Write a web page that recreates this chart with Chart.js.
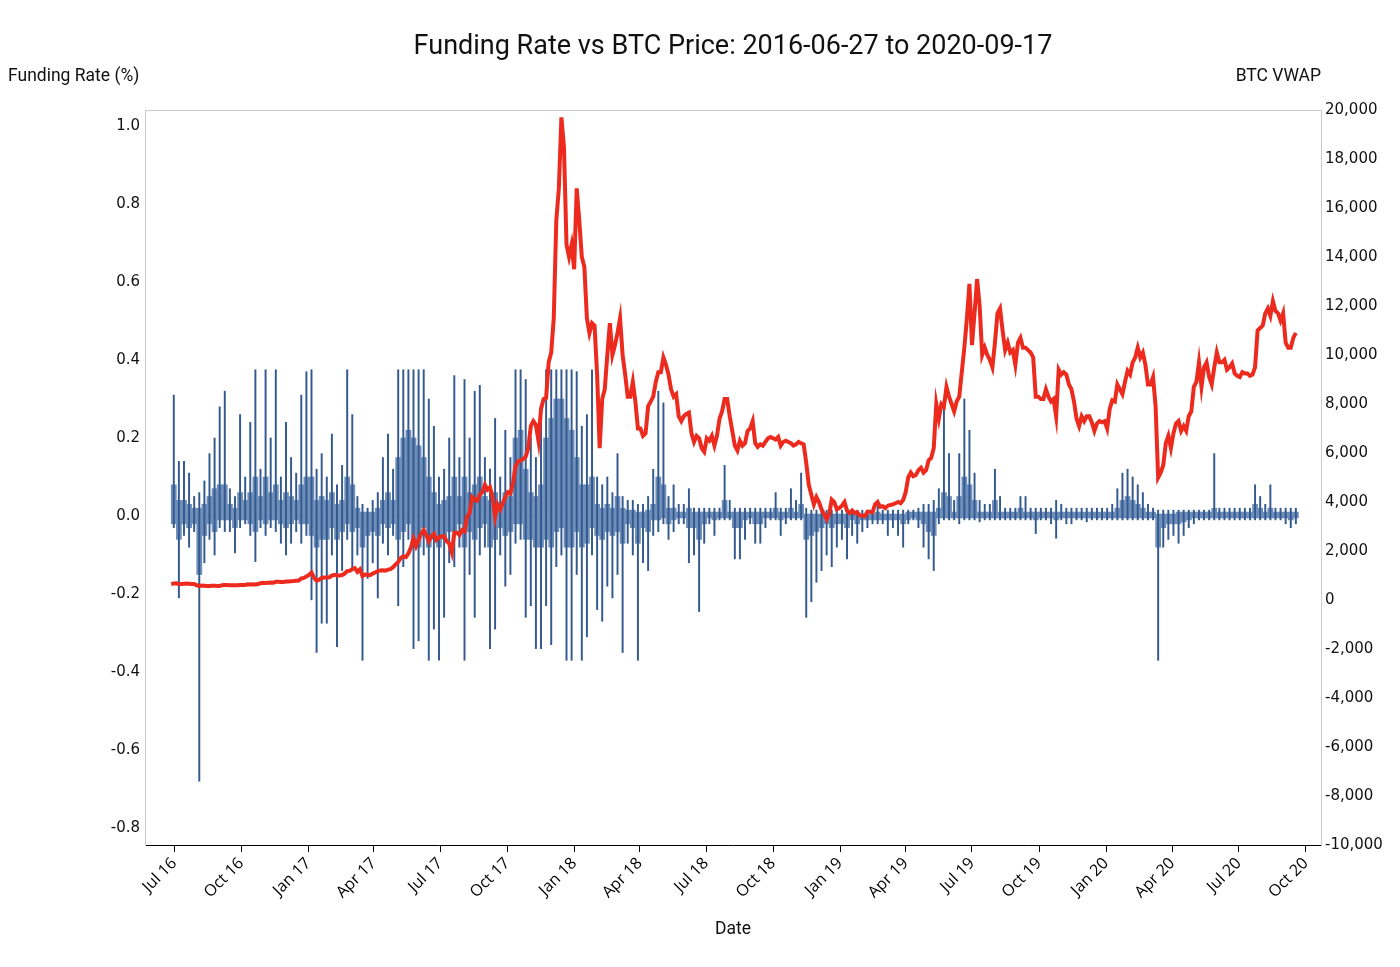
<!DOCTYPE html>
<html>
<head>
<meta charset="utf-8">
<script src="https://cdn.jsdelivr.net/npm/chart.js@4.4.1/dist/chart.umd.min.js"></script>
<style>
  html, body { margin: 0; padding: 0; background: #fff; }
  #wrap { width: 1400px; height: 967px; }
</style>
</head>
<body>
<div id="wrap"><canvas id="funding-chart"></canvas></div>
<script>
const startDate = "2016-06-27";

const tickDates = ["2016-07-01", "2016-10-01", "2017-01-01", "2017-04-01", "2017-07-01", "2017-10-01",
    "2018-01-01", "2018-04-01", "2018-07-01", "2018-10-01", "2019-01-01", "2019-04-01",
    "2019-07-01", "2019-10-01", "2020-01-01", "2020-04-01", "2020-07-01", "2020-10-01"];
const tickLabels = ["Jul 16", "Oct 16", "Jan 17", "Apr 17", "Jul 17", "Oct 17", "Jan 18", "Apr 18", "Jul 18",
    "Oct 18", "Jan 19", "Apr 19", "Jul 19", "Oct 19", "Jan 20", "Apr 20", "Jul 20", "Oct 20"];

// BTC VWAP, one value every 3.5 days from startDate
const btcVwap = [
    // 2016
    650, 675, 680, 650, 655, 665, 670, 665, 655, 655, 600, 575, 590, 585, 570, 575, 585, 580, 575, 575,
    605, 615, 610, 607, 605, 598, 603, 608, 610, 613, 640, 637, 638, 630, 655, 685, 700, 690, 705, 715,
    705, 740, 740, 735, 735, 755, 760, 770, 775, 785, 795, 880, 900, 960,
    // 2017
    1020, 1120, 900, 790, 830, 900, 920, 915, 930, 1000, 1030, 1000, 1000, 1020, 1080, 1180, 1190, 1260,
    1300, 1150, 1250, 980, 1040, 1030, 1010, 1080, 1120, 1180, 1200, 1210, 1200, 1240, 1260, 1340,
    1450, 1550, 1720, 1780, 1750, 1900, 2150, 2500, 2200, 2450, 2700, 2850, 2650, 2400, 2600, 2700,
    2450, 2550, 2600, 2600, 2400, 2300, 1950, 2750, 2750, 2650, 2850, 2800, 3400, 3550, 4200, 4100,
    4050, 4300, 4400, 4700, 4500, 4600, 4200, 3400, 3900, 3700, 3950, 4200, 4400, 4350, 4750, 5450,
    5650, 5700, 5750, 5850, 6200, 7100, 7300, 7150, 6500, 7800, 8200, 8250, 9700, 10100, 11500, 15500,
    16800, 19700, 18500, 14500, 14000, 14500,
    // 2018
    13500, 16800, 15500, 14000, 13600, 11500, 10900, 11300, 11200, 9200, 6200, 8200, 8600, 10000,
    11300, 10000, 10400, 10900, 11500, 10000, 9200, 8300, 8300, 8900, 8100, 7000, 7000, 6700, 6800, 7900,
    8100, 8300, 8900, 9300, 9300, 9900, 9600, 9200, 8600, 8300, 8400, 7500, 7300, 7500, 7600, 7650,
    6800, 6450, 6700, 6600, 6200, 6050, 6600, 6500, 6700, 6300, 6700, 7400, 7700, 8200, 8200, 7500,
    6900, 6300, 6100, 6500, 6300, 6400, 6900, 7000, 7300, 6400, 6250, 6350, 6300, 6450, 6600, 6650,
    6600, 6550, 6650, 6300, 6450, 6500, 6450, 6400, 6300, 6350, 6450, 6400, 6350, 5600, 4700, 4300,
    3900, 4200, 4000, 3700, 3500, 3300, 3500, 4100, 4000, 3700, 3750, 3850,
    // 2019
    4000, 3650, 3550, 3650, 3550, 3580, 3450, 3450, 3420, 3600, 3600, 3580, 3900, 4000, 3800, 3830,
    3750, 3850, 3880, 3900, 3950, 4000, 3950, 4080, 4400, 5000, 5200, 5050, 5100, 5300, 5400, 5200,
    5300, 5700, 5800, 6200, 8000, 7400, 8000, 7900, 8700, 8300, 8000, 7700, 8100, 8300, 9300, 10300,
    11500, 12900, 10400, 11700, 13100, 12000, 10000, 10300, 10000, 9800, 9500, 10500, 11700, 11900,
    11000, 10200, 10500, 10100, 10200, 9600, 10500, 10700, 10300, 10300, 10200, 10100, 9900, 8300,
    8300, 8200, 8200, 8600, 8300, 8100, 8200, 7500, 9400, 9200, 9300, 9200, 8800, 8600, 8100, 7400,
    7100, 7500, 7300, 7500, 7500, 7250, 6900, 7200, 7300, 7250, 7300, 7000,
    // 2020
    7800, 8150, 8100, 8800, 8600, 8400, 8900, 9350, 9200, 9700, 9900, 10300, 9900, 10100, 9600, 8800,
    8800, 9100, 7900, 5000, 5200, 5500, 6400, 6700, 6200, 6800, 7200, 7300, 6900, 7100, 6900, 7500,
    7700, 8700, 8900, 9700, 8700, 9500, 9700, 9100, 8800, 9500, 10100, 9700, 9700, 9800, 9400, 9500,
    9650, 9250, 9150, 9100, 9300, 9250, 9250, 9150, 9200, 9500, 11000, 11100, 11200, 11700, 11900, 11600,
    12200, 11800, 11700, 11400, 11700, 10500, 10300, 10300, 10700, 10900
];

// funding rate (%), highest and lowest print of each week from startDate
const fundHigh = [
    0.31, 0.14, 0.14, 0.11, 0.05, 0.06, 0.09, 0.16, 0.20, 0.28,
    0.32, 0.07, 0.05, 0.26, 0.10, 0.24, 0.375, 0.12, 0.375, 0.20,
    0.375, 0.10, 0.24, 0.15, 0.11, 0.31, 0.37, 0.375, 0.12, 0.16,
    0.10, 0.21, 0.08, 0.13, 0.375, 0.26, 0.05, 0.03, 0.02, 0.04,
    0.06, 0.15, 0.21, 0.12, 0.375, 0.375, 0.375, 0.375, 0.375, 0.375,
    0.30, 0.23, 0.10, 0.12, 0.20, 0.36, 0.15, 0.35, 0.20, 0.32,
    0.335, 0.15, 0.12, 0.25, 0.10, 0.22, 0.15, 0.375, 0.375, 0.35,
    0.20, 0.15, 0.26, 0.375, 0.375, 0.375, 0.375, 0.375, 0.375, 0.37,
    0.23, 0.26, 0.375, 0.10, 0.08, 0.10, 0.06, 0.16, 0.05, 0.04,
    0.04, 0.03, 0.03, 0.05, 0.12, 0.32, 0.29, 0.05, 0.08, 0.03,
    0.03, 0.07, 0.02, 0.02, 0.02, 0.02, 0.02, 0.02, 0.13, 0.04,
    0.02, 0.02, 0.02, 0.02, 0.02, 0.02, 0.02, 0.02, 0.06, 0.02,
    0.02, 0.07, 0.04, 0.11, 0.02, 0.015, 0.015, 0.015, 0.015, 0.015,
    0.015, 0.015, 0.015, 0.015, 0.015, 0.015, 0.015, 0.015, 0.03, 0.015,
    0.015, 0.015, 0.015, 0.015, 0.015, 0.015, 0.02, 0.03, 0.03, 0.04,
    0.07, 0.28, 0.16, 0.04, 0.16, 0.30, 0.22, 0.11, 0.04, 0.03,
    0.03, 0.12, 0.05, 0.02, 0.02, 0.02, 0.05, 0.05, 0.02, 0.02,
    0.02, 0.02, 0.02, 0.04, 0.03, 0.02, 0.02, 0.02, 0.02, 0.02,
    0.02, 0.02, 0.02, 0.02, 0.03, 0.07, 0.11, 0.12, 0.10, 0.08,
    0.06, 0.03, 0.02, 0.015, 0.015, 0.015, 0.015, 0.015, 0.015, 0.015,
    0.015, 0.015, 0.015, 0.015, 0.16, 0.02, 0.02, 0.02, 0.02, 0.02,
    0.02, 0.02, 0.08, 0.05, 0.03, 0.08, 0.02, 0.02, 0.02, 0.02,
    0.02
];
const fundLow = [
    -0.03, -0.21, -0.05, -0.08, -0.04, -0.68, -0.12, -0.06, -0.10, -0.03,
    -0.04, -0.04, -0.095, -0.03, -0.02, -0.05, -0.117, -0.03, -0.05, -0.03,
    -0.04, -0.07, -0.10, -0.07, -0.04, -0.07, -0.05, -0.215, -0.35, -0.275,
    -0.275, -0.10, -0.335, -0.14, -0.06, -0.14, -0.10, -0.37, -0.16, -0.12,
    -0.21, -0.07, -0.10, -0.05, -0.23, -0.13, -0.06, -0.34, -0.32, -0.10,
    -0.37, -0.29, -0.37, -0.26, -0.12, -0.13, -0.08, -0.37, -0.15, -0.26,
    -0.10, -0.08, -0.34, -0.29, -0.10, -0.18, -0.15, -0.07, -0.06, -0.26,
    -0.23, -0.34, -0.34, -0.23, -0.33, -0.13, -0.10, -0.37, -0.37, -0.15,
    -0.37, -0.31, -0.10, -0.24, -0.27, -0.18, -0.21, -0.15, -0.35, -0.07,
    -0.10, -0.37, -0.12, -0.14, -0.05, -0.04, -0.02, -0.06, -0.04, -0.02,
    -0.02, -0.12, -0.10, -0.245, -0.07, -0.02, -0.05, -0.01, -0.01, -0.01,
    -0.11, -0.11, -0.06, -0.02, -0.07, -0.07, -0.03, -0.01, -0.01, -0.05,
    -0.02, -0.01, -0.01, -0.01, -0.26, -0.22, -0.17, -0.14, -0.10, -0.13,
    -0.08, -0.06, -0.11, -0.05, -0.07, -0.04, -0.03, -0.02, -0.02, -0.02,
    -0.05, -0.03, -0.05, -0.08, -0.02, -0.01, -0.03, -0.08, -0.11, -0.14,
    -0.02, -0.01, -0.01, -0.01, -0.02, -0.01, -0.01, -0.01, -0.015, -0.01,
    -0.01, -0.01, -0.01, -0.01, -0.01, -0.01, -0.01, -0.01, -0.01, -0.045,
    -0.01, -0.01, -0.02, -0.057, -0.01, -0.02, -0.02, -0.01, -0.01, -0.015,
    -0.01, -0.01, -0.01, -0.01, -0.01, -0.01, -0.01, -0.01, -0.01, -0.01,
    -0.01, -0.01, -0.01, -0.37, -0.08, -0.06, -0.05, -0.07, -0.05, -0.03,
    -0.02, -0.01, -0.01, -0.01, -0.01, -0.01, -0.01, -0.01, -0.01, -0.01,
    -0.01, -0.01, -0.01, -0.01, -0.01, -0.01, -0.01, -0.01, -0.02, -0.03,
    -0.02
];

// funding rate (%), level most prints of each week stay within (dense part of the bars)
const fundBulkHigh = [
    0.08, 0.04, 0.04, 0.03, 0.02, 0.02, 0.03, 0.05, 0.07, 0.08,
    0.08, 0.03, 0.02, 0.06, 0.04, 0.06, 0.10, 0.05, 0.10, 0.06,
    0.08, 0.04, 0.06, 0.05, 0.04, 0.08, 0.10, 0.10, 0.04, 0.05,
    0.04, 0.06, 0.03, 0.04, 0.10, 0.08, 0.02, 0.01, 0.01, 0.01,
    0.02, 0.04, 0.06, 0.04, 0.15, 0.20, 0.22, 0.20, 0.18, 0.15,
    0.10, 0.06, 0.03, 0.04, 0.05, 0.10, 0.05, 0.10, 0.06, 0.08,
    0.10, 0.05, 0.04, 0.06, 0.03, 0.06, 0.05, 0.20, 0.22, 0.12,
    0.06, 0.05, 0.08, 0.20, 0.25, 0.30, 0.30, 0.25, 0.22, 0.15,
    0.08, 0.08, 0.10, 0.03, 0.02, 0.03, 0.02, 0.05, 0.02, 0.015,
    0.015, 0.01, 0.01, 0.015, 0.03, 0.10, 0.08, 0.02, 0.02, 0.01,
    0.01, 0.02, 0.01, 0.01, 0.01, 0.01, 0.01, 0.01, 0.04, 0.01,
    0.01, 0.01, 0.01, 0.01, 0.01, 0.01, 0.01, 0.01, 0.02, 0.01,
    0.01, 0.02, 0.01, 0.03, 0.005, 0.005, 0.005, 0.005, 0.005, 0.005,
    0.005, 0.005, 0.005, 0.005, 0.005, 0.005, 0.005, 0.005, 0.01, 0.005,
    0.005, 0.005, 0.005, 0.005, 0.01, 0.01, 0.01, 0.01, 0.01, 0.01,
    0.02, 0.06, 0.05, 0.01, 0.05, 0.10, 0.08, 0.04, 0.01, 0.01,
    0.01, 0.04, 0.01, 0.01, 0.01, 0.01, 0.02, 0.01, 0.01, 0.01,
    0.01, 0.01, 0.01, 0.01, 0.01, 0.01, 0.01, 0.01, 0.01, 0.01,
    0.01, 0.01, 0.01, 0.01, 0.01, 0.02, 0.04, 0.05, 0.04, 0.03,
    0.02, 0.01, 0.01, 0.005, 0.005, 0.005, 0.005, 0.01, 0.01, 0.01,
    0.01, 0.01, 0.01, 0.01, 0.02, 0.01, 0.01, 0.01, 0.01, 0.01,
    0.01, 0.01, 0.03, 0.02, 0.01, 0.02, 0.01, 0.01, 0.01, 0.01,
    0.01
];
const fundBulkLow = [
    -0.02, -0.06, -0.02, -0.03, -0.02, -0.15, -0.05, -0.02, -0.04, -0.01,
    -0.01, -0.01, -0.03, -0.01, -0.01, -0.02, -0.04, -0.01, -0.02, -0.01,
    -0.01, -0.02, -0.03, -0.02, -0.01, -0.02, -0.02, -0.05, -0.08, -0.06,
    -0.06, -0.03, -0.06, -0.04, -0.02, -0.04, -0.03, -0.08, -0.05, -0.04,
    -0.05, -0.02, -0.03, -0.02, -0.06, -0.04, -0.02, -0.08, -0.08, -0.03,
    -0.08, -0.06, -0.08, -0.06, -0.04, -0.04, -0.02, -0.08, -0.04, -0.06,
    -0.03, -0.02, -0.08, -0.06, -0.03, -0.05, -0.04, -0.02, -0.02, -0.06,
    -0.06, -0.08, -0.08, -0.06, -0.08, -0.04, -0.03, -0.08, -0.08, -0.04,
    -0.08, -0.07, -0.03, -0.05, -0.06, -0.04, -0.05, -0.04, -0.07, -0.02,
    -0.03, -0.07, -0.03, -0.04, -0.01, -0.01, -0.005, -0.02, -0.01, -0.005,
    -0.005, -0.03, -0.03, -0.06, -0.02, -0.005, -0.01, -0.005, -0.005, -0.005,
    -0.03, -0.03, -0.01, -0.005, -0.02, -0.02, -0.005, -0.005, -0.005, -0.01,
    -0.005, -0.005, -0.005, -0.005, -0.06, -0.05, -0.04, -0.03, -0.02, -0.03,
    -0.02, -0.02, -0.03, -0.01, -0.02, -0.01, -0.01, -0.01, -0.01, -0.01,
    -0.01, -0.01, -0.01, -0.02, -0.01, -0.005, -0.01, -0.02, -0.04, -0.05,
    -0.005, -0.005, -0.005, -0.005, -0.005, -0.005, -0.005, -0.005, -0.005, -0.005,
    -0.005, -0.005, -0.005, -0.005, -0.005, -0.005, -0.005, -0.005, -0.005, -0.01,
    -0.005, -0.005, -0.005, -0.01, -0.005, -0.005, -0.005, -0.005, -0.005, -0.005,
    -0.005, -0.005, -0.005, -0.005, -0.005, -0.005, -0.005, -0.005, -0.005, -0.005,
    -0.005, -0.005, -0.005, -0.08, -0.03, -0.02, -0.02, -0.02, -0.015, -0.01,
    -0.005, -0.005, -0.005, -0.005, -0.005, -0.005, -0.005, -0.005, -0.005, -0.005,
    -0.005, -0.005, -0.005, -0.005, -0.005, -0.005, -0.005, -0.005, -0.005, -0.01,
    -0.005
];

const DAY = 86400000;
const t0 = Date.parse(startDate);
const dayOf = d => (Date.parse(d) - t0) / DAY;
const tickDays = tickDates.map(dayOf);

const barColor = "#34598f";
const bulkColor = "#6f8fbb";
const weekly = arr => arr.map((v, i) => ({ x: i * 7 + 3.5, y: v }));

const textPlugin = {
    id: "texts",
    afterDraw(chart) {
        const { ctx, chartArea } = chart;
        ctx.save();
        // top frame line
        ctx.strokeStyle = "#cccccc";
        ctx.lineWidth = 1;
        ctx.beginPath();
        ctx.moveTo(chartArea.left, chartArea.top + 0.5);
        ctx.lineTo(chartArea.right, chartArea.top + 0.5);
        ctx.stroke();

        ctx.fillStyle = "#111";
        ctx.textBaseline = "middle";
        const mid = (chartArea.left + chartArea.right) / 2;

        ctx.font = "27px Roboto";
        ctx.textAlign = "center";
        ctx.fillText("Funding Rate vs BTC Price: 2016-06-27 to 2020-09-17", mid, 47);

        ctx.font = "17.5px Roboto";
        ctx.textAlign = "left";
        ctx.fillText("Funding Rate (%)", 8, 77);
        ctx.textAlign = "right";
        ctx.fillText("BTC VWAP", chartArea.right, 77);
        ctx.textAlign = "center";
        ctx.fillText("Date", mid, 930);
        ctx.restore();
    }
};

const ctx = document.getElementById("funding-chart").getContext("2d");

new Chart(ctx, {
    type: "bar",
    data: {
        datasets: [
            {
                type: "line",
                label: "BTC VWAP",
                data: btcVwap.map((v, i) => ({ x: i * 3.5, y: v })),
                yAxisID: "y1",
                borderColor: "#ec2b1e",
                borderWidth: 4,
                pointRadius: 0,
                tension: 0,
                order: 0
            },
            {
                label: "Funding high",
                data: weekly(fundHigh),
                yAxisID: "y",
                backgroundColor: barColor,
                barThickness: 1.3,
                grouped: false,
                order: 1
            },
            {
                label: "Funding low",
                data: weekly(fundLow),
                yAxisID: "y",
                backgroundColor: barColor,
                barThickness: 1.3,
                grouped: false,
                order: 1
            },
            {
                label: "Funding bulk high",
                data: weekly(fundBulkHigh),
                yAxisID: "y",
                backgroundColor: bulkColor,
                barThickness: 5.1,
                grouped: false,
                order: 2
            },
            {
                label: "Funding bulk low",
                data: weekly(fundBulkLow),
                yAxisID: "y",
                backgroundColor: bulkColor,
                barThickness: 5.1,
                grouped: false,
                order: 2
            }
        ]
    },
    options: {
        responsive: true,
        maintainAspectRatio: false,
        animation: false,
        layout: { padding: { top: 110, left: 0, right: 0, bottom: 0 } },
        scales: {
            x: {
                type: "linear",
                position: "bottom",
                offset: false,
                min: -36,
                max: 1578,
                afterBuildTicks: scale => {
                    scale.ticks = tickDays.map(v => ({ value: v }));
                },
                afterFit: scale => { scale.height = 122; },
                ticks: {
                    autoSkip: false,
                    maxRotation: 45,
                    minRotation: 45,
                    padding: 2,
                    color: "#000",
                    font: { family: "Open Sans", size: 16 },
                    callback: value => tickLabels[tickDays.indexOf(value)]
                },
                grid: { offset: false, drawOnChartArea: false, drawTicks: true, tickLength: 7, color: "#000" },
                border: { color: "#000", width: 1 }
            },
            y: {
                position: "left",
                min: -0.8436,
                max: 1.041,
                afterFit: scale => { scale.width = 145; },
                ticks: {
                    stepSize: 0.2,
                    includeBounds: false,
                    padding: 5,
                    color: "#111",
                    font: { family: "DejaVu Sans", size: 15 },
                    callback: v => (Math.abs(v) < 1e-9 ? "0.0" : v.toFixed(1))
                },
                grid: { display: false, drawTicks: false },
                border: { display: true, color: "#cccccc" }
            },
            y1: {
                position: "right",
                min: -10000,
                max: 20000,
                afterFit: scale => { scale.width = 79; },
                ticks: {
                    stepSize: 2000,
                    padding: 4,
                    color: "#111",
                    font: { family: "DejaVu Sans", size: 15 },
                    callback: v => v.toLocaleString("en-US")
                },
                grid: { display: false, drawTicks: false },
                border: { display: true, color: "#cccccc" }
            }
        },
        plugins: {
            legend: { display: false },
            tooltip: { enabled: false },
            title: { display: false }
        }
    },
    plugins: [textPlugin]
});
</script>
</body>
</html>
